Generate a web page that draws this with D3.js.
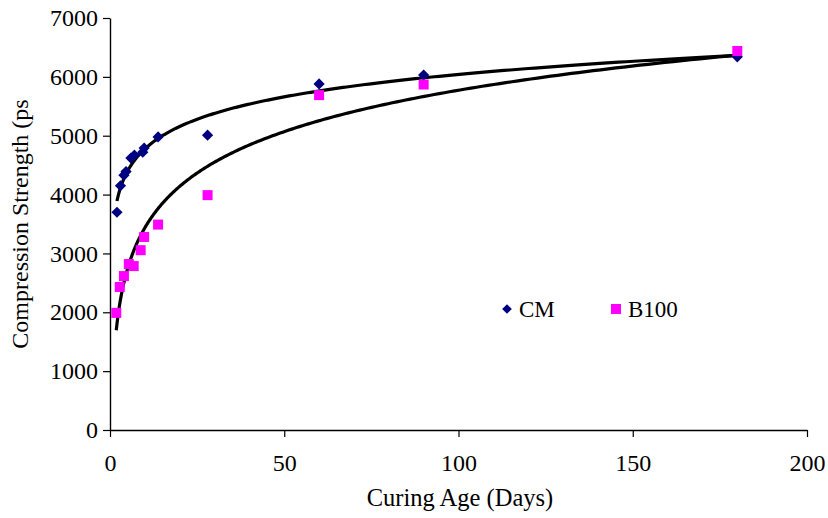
<!DOCTYPE html>
<html>
<head>
<meta charset="utf-8">
<script src="https://cdn.jsdelivr.net/npm/d3@7"></script>
<style>
  body { margin: 0; background: #fff; }
  svg text { font-family: "Liberation Serif", "Times New Roman", serif; fill: #000; }
</style>
</head>
<body>
<svg id="chart" width="828" height="518"></svg>
<script>
// curing age (days) and strength (psi)
var cmAges = [2, 3, 4, 4.6, 6, 7, 9.4, 9.8, 13.8, 28, 60, 90, 180];
var cmValues = [3700, 4150, 4330, 4390, 4620, 4670, 4720, 4790, 4980, 5010, 5880, 6030, 6340];

var b100Ages = [1.8, 2.8, 4, 5.4, 6.8, 8.8, 9.8, 13.8, 28, 60, 90, 180];
var b100Values = [1990, 2430, 2615, 2820, 2785, 3055, 3280, 3490, 3990, 5690, 5870, 6440];

var xTicks = [0, 50, 100, 150, 200];
var yTicks = [0, 1000, 2000, 3000, 4000, 5000, 6000, 7000];

var legendNames = ["CM", "B100"];

var margin = { left: 110, right: 807, top: 18, bottom: 430 };

var svg = d3.select("#chart");

var x = d3.scaleLinear().domain([0, 200]).range([margin.left, margin.right]);
var y = d3.scaleLinear().domain([0, 7000]).range([margin.bottom, margin.top]);

// axes
var xAxis = svg.append("g")
    .attr("transform", "translate(0," + margin.bottom + ")")
    .call(d3.axisBottom(x).tickValues(xTicks).tickFormat(d3.format("d"))
        .tickSize(7).tickSizeOuter(0).tickPadding(17));

var yAxis = svg.append("g")
    .attr("transform", "translate(" + margin.left + ",0)")
    .call(d3.axisLeft(y).tickValues(yTicks).tickFormat(d3.format("d"))
        .tickSize(7).tickSizeOuter(0).tickPadding(5));

[xAxis, yAxis].forEach(function(g) {
    g.selectAll("text").style("font-size", "24px").attr("font-family", null);
    g.selectAll("line").attr("stroke", "#000").attr("stroke-width", 1.2);
    g.select(".domain").attr("stroke", "#000").attr("stroke-width", 1.4);
});

// titles
svg.append("text")
    .attr("x", 460)
    .attr("y", 506)
    .attr("text-anchor", "middle")
    .style("font-size", "24.5px")
    .text("Curing Age (Days)");

svg.append("text")
    .attr("transform", "translate(28," + ((margin.top + margin.bottom) / 2) + ") rotate(-90)")
    .attr("text-anchor", "middle")
    .style("font-size", "24px")
    .text("Compression Strength (ps");

// logarithmic trendline, fitted from the data like a spreadsheet does
function logFit(xs, ys) {
    var lx = xs.map(function(v) { return Math.log(v); });
    var mx = d3.mean(lx), my = d3.mean(ys);
    var sxy = 0, sxx = 0;
    for (var i = 0; i < lx.length; i++) {
        sxy += (lx[i] - mx) * (ys[i] - my);
        sxx += (lx[i] - mx) * (lx[i] - mx);
    }
    var a = sxy / sxx;
    var b = my - a * mx;
    var ext = d3.extent(xs);
    var pts = [];
    for (var k = 0; k <= 300; k++) {
        var t = ext[0] * Math.pow(ext[1] / ext[0], k / 300);
        pts.push([t, a * Math.log(t) + b]);
    }
    return pts;
}

var line = d3.line()
    .x(function(d) { return x(d[0]); })
    .y(function(d) { return y(d[1]); });

[[cmAges, cmValues], [b100Ages, b100Values]].forEach(function(s) {
    svg.append("path")
        .attr("d", line(logFit(s[0], s[1])))
        .attr("fill", "none")
        .attr("stroke", "#000")
        .attr("stroke-width", 3.2);
});

// markers
var diamond = d3.symbol().type(d3.symbolDiamond2).size(80);

svg.append("g").selectAll("path")
    .data(d3.zip(cmAges, cmValues))
    .enter()
    .append("path")
    .attr("d", diamond)
    .attr("transform", function(d) { return "translate(" + x(d[0]) + "," + y(d[1]) + ")"; })
    .attr("fill", "#000080");

svg.append("g").selectAll("rect")
    .data(d3.zip(b100Ages, b100Values))
    .enter()
    .append("rect")
    .attr("x", function(d) { return x(d[0]) - 5; })
    .attr("y", function(d) { return y(d[1]) - 5; })
    .attr("width", 10)
    .attr("height", 10)
    .attr("fill", "#ff00ff");

// legend
var legend = svg.append("g");
legend.append("path")
    .attr("d", d3.symbol().type(d3.symbolDiamond2).size(60))
    .attr("transform", "translate(507,309)")
    .attr("fill", "#000080");
legend.append("text")
    .attr("x", 519).attr("y", 317)
    .style("font-size", "23px")
    .text(legendNames[0]);
legend.append("rect")
    .attr("x", 611).attr("y", 304)
    .attr("width", 10).attr("height", 10)
    .attr("fill", "#ff00ff");
legend.append("text")
    .attr("x", 628).attr("y", 317)
    .style("font-size", "23px")
    .text(legendNames[1]);
</script>
</body>
</html>
